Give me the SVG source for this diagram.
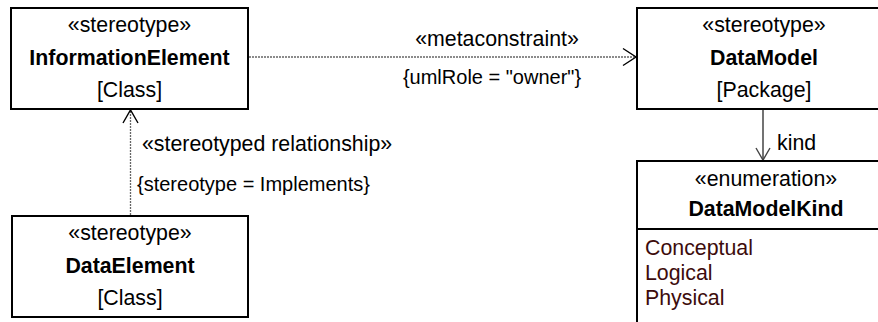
<svg xmlns="http://www.w3.org/2000/svg" width="878" height="322" viewBox="0 0 878 322">
<defs>
<style>
.box{fill:#fff;stroke:#000;stroke-width:2}
.t{font-family:"Liberation Sans",Arial,sans-serif;font-size:21.33px;fill:#000}
.c{text-anchor:middle}
.b{font-weight:bold}
.k{font-size:20px}
.lit{fill:#3d0c0c}
.dash{fill:none;stroke:#666;stroke-width:1.3;stroke-dasharray:2 1}
.solid{fill:none;stroke:#444;stroke-width:1.5}
.head{fill:none;stroke:#000;stroke-width:1.4}
</style>
</defs>
<rect width="878" height="322" fill="#fff"/>
<g id="connectors">
<g id="metaconstraint">
<line class="dash" x1="249" y1="57" x2="635" y2="57"/>
<polyline class="head" points="623,48.5 636,57 623,65.5"/>
<text class="t" x="497" y="46" text-anchor="middle">«metaconstraint»</text>
<text class="t k" x="492" y="84" text-anchor="middle">{umlRole = "owner"}</text>
</g>
<g id="stereotyped-relationship">
<line class="dash" x1="130.5" y1="215" x2="130.5" y2="111"/>
<polyline class="head" points="123,123 130.5,110 138,123"/>
<text class="t" x="142" y="151">«stereotyped relationship»</text>
<text class="t k" x="137" y="191">{stereotype = Implements}</text>
</g>
<g id="kind">
<line class="solid" x1="763" y1="109" x2="763" y2="160"/>
<polyline class="head" points="756,148 763,160 770,148" style="stroke:#444"/>
<text class="t" x="777" y="150">kind</text>
</g>
</g>
<g id="InformationElement">
<rect class="box" x="11" y="8" width="237" height="101"/>
<text class="t c" x="129.5" y="32">«stereotype»</text>
<text class="t c b" x="129.5" y="65">InformationElement</text>
<text class="t c" x="129.5" y="97">[Class]</text>
</g>
<g id="DataElement">
<rect class="box" x="12" y="216" width="236" height="101"/>
<text class="t c" x="130" y="240">«stereotype»</text>
<text class="t c b" x="130" y="273">DataElement</text>
<text class="t c" x="130" y="305">[Class]</text>
</g>
<g id="DataModel">
<rect class="box" x="637" y="8" width="254" height="101"/>
<text class="t c" x="764" y="32">«stereotype»</text>
<text class="t c b" x="764" y="65">DataModel</text>
<text class="t c" x="764" y="97">[Package]</text>
</g>
<g id="DataModelKind">
<rect class="box" x="637" y="161" width="258" height="180"/>
<line x1="637" y1="229" x2="895" y2="229" stroke="#000" stroke-width="2"/>
<text class="t c" x="766" y="186">«enumeration»</text>
<text class="t c b" x="766" y="216">DataModelKind</text>
<text class="t lit" x="645" y="255">Conceptual</text>
<text class="t lit" x="645" y="280">Logical</text>
<text class="t lit" x="645" y="305">Physical</text>
</g>
</svg>
